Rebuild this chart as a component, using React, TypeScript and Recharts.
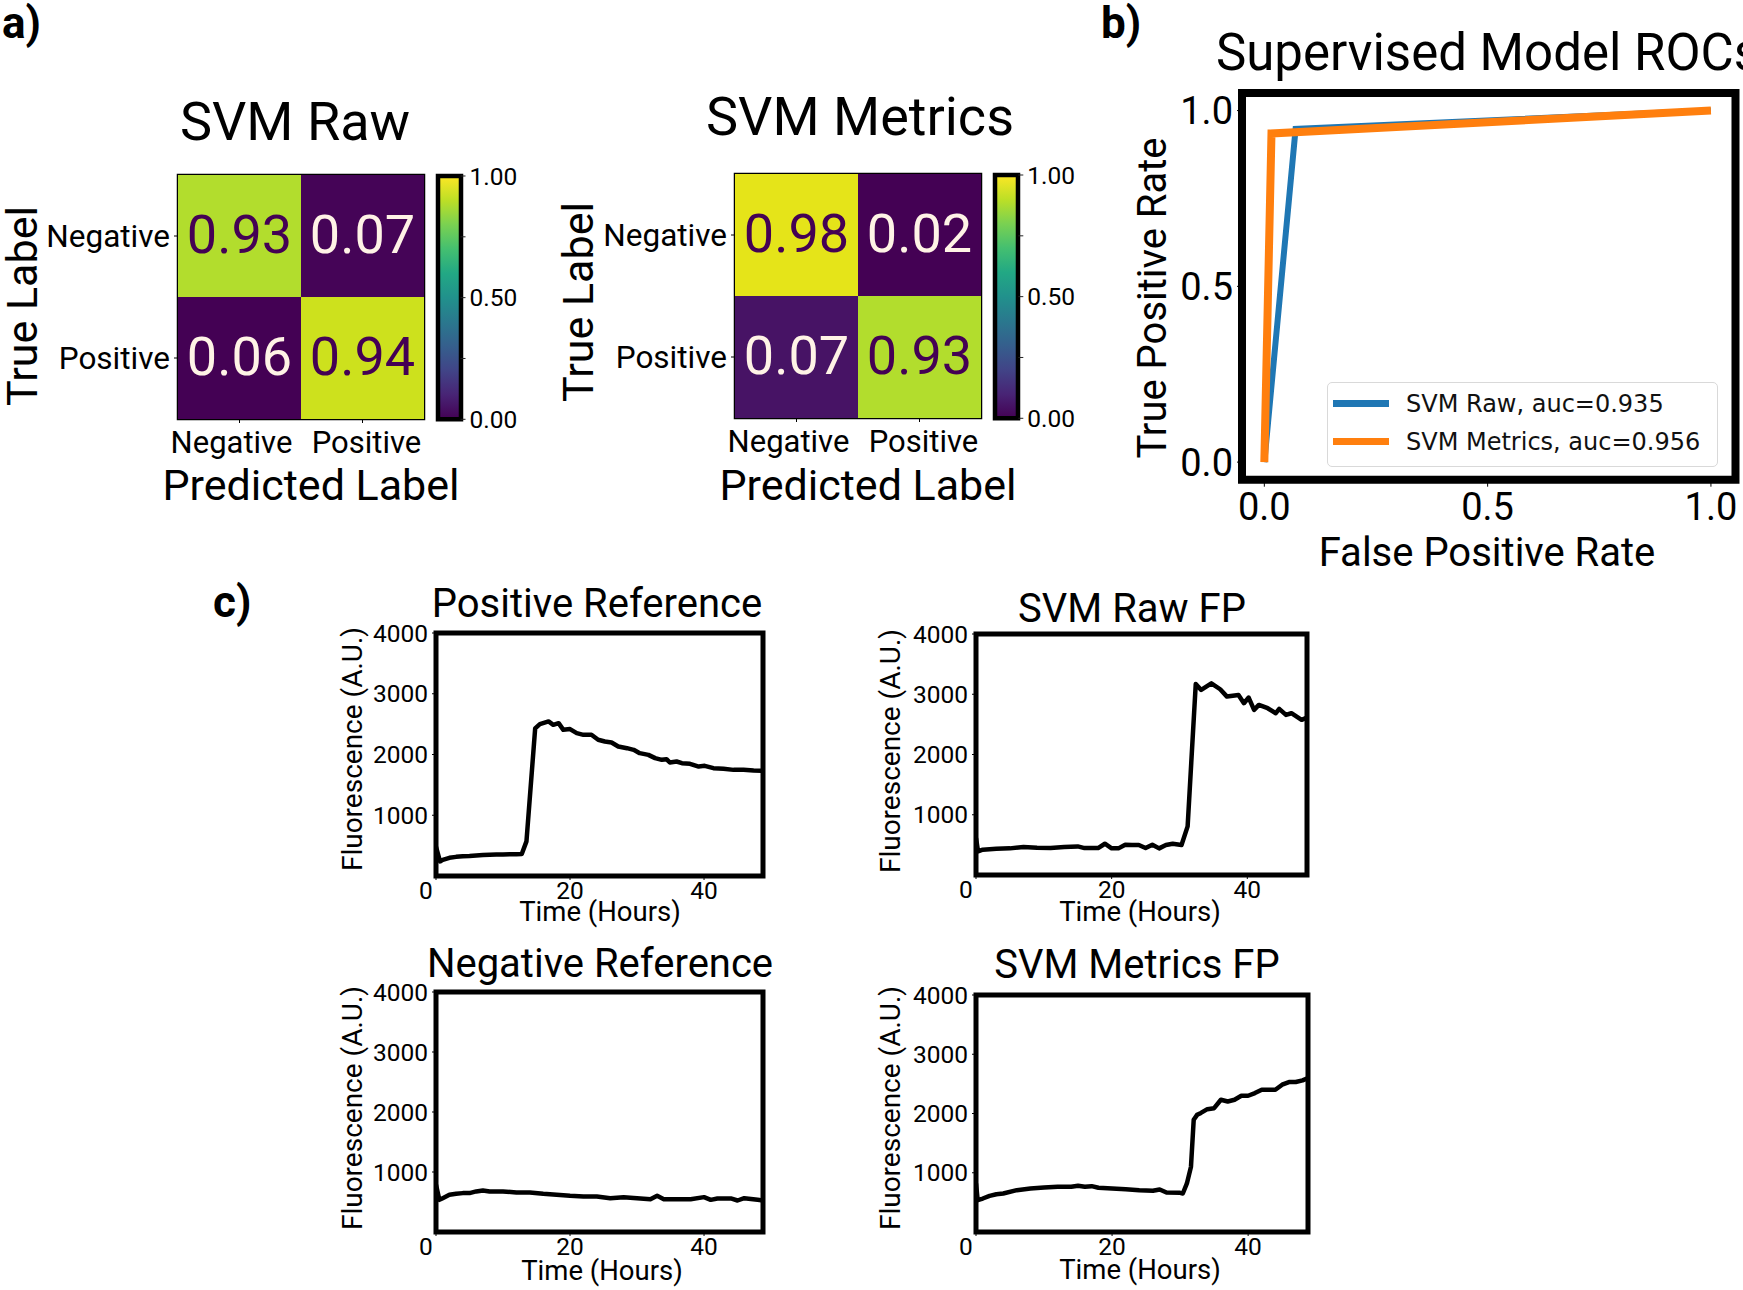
import React from 'react';
import { LineChart, Line, BarChart, Bar, Cell, XAxis, YAxis, ReferenceArea, Legend, LabelList } from 'recharts';

const FONT = 'Roboto, "Noto Sans", sans-serif';

// confusion matrices (rows = true label, cols = predicted)
const classLabels = ['Negative', 'Positive'];
const rawMatrix = [[0.93, 0.07], [0.06, 0.94]];
const metricsMatrix = [[0.98, 0.02], [0.07, 0.93]];
const rawCellColors = [['#b2dd2d', '#450457'], ['#440154', '#cde11d']];
const metricsCellColors = [['#e5e419', '#440154'], ['#471365', '#b2dd2d']];
const colorbarRange = [0, 1];
const colorbarTicks = [0, 0.25, 0.5, 0.75, 1];
const colorbarLabels = ['0.00', '', '0.50', '', '1.00'];
const viridis = ['#440154', '#482475', '#414487', '#355f8d', '#2a788e', '#21918c', '#22a884', '#44bf70', '#7ad151', '#bddf26', '#fde725'];

// ROC curves
const rocNames = ['SVM Raw, auc=0.935', 'SVM Metrics, auc=0.956'];
const rawFpr = [0, 0.07, 1];
const rawTpr = [0, 0.948, 1];
const metFpr = [0, 0.016, 1];
const metTpr = [0, 0.935, 1];
const rocTicks = [0, 0.5, 1];
const rocXDomain = [-0.05, 1.055];
const rocYDomain = [-0.05, 1.05];

// fluorescence traces (hours, A.U.)
const posRefT = [0, 0.6, 1, 2, 3, 4, 5, 6, 7, 8, 9, 10, 11, 12, 12.8, 13.5, 14.8, 15.5, 16.8, 17.5, 18.3, 19, 20, 21, 22, 23.2, 24.2, 25.2, 26.2, 27.2, 28.5, 29.5, 30.4, 31.7, 32.7, 33.7, 34.4, 34.9, 35.9, 36.7, 37.9, 39.2, 40.1, 41.4, 42.9, 44.4, 45.9, 47.4, 48.6];
const posRefF = [480, 240, 265, 300, 315, 325, 330, 338, 345, 350, 352, 355, 357, 358, 362, 570, 2430, 2500, 2544, 2489, 2516, 2406, 2418, 2352, 2324, 2324, 2242, 2214, 2198, 2132, 2104, 2077, 2022, 1994, 1940, 1912, 1923, 1868, 1885, 1857, 1846, 1802, 1813, 1775, 1764, 1747, 1747, 1736, 1731];

const rawFpT = [0, 0.3, 1, 3, 5, 7, 9, 11, 13, 15, 16, 18, 19, 20, 21, 22, 23, 24, 25, 26, 27, 28, 29, 30.3, 31.2, 32.4, 33.2, 34.7, 36, 37, 38.7, 39.5, 40.2, 41, 41.7, 43, 44.2, 44.7, 45.7, 46.5, 48, 48.8];
const rawFpF = [613, 392, 420, 436, 442, 464, 453, 447, 464, 475, 447, 447, 519, 442, 442, 503, 497, 497, 447, 503, 442, 497, 519, 497, 807, 3171, 3072, 3182, 3083, 2961, 2989, 2851, 2945, 2740, 2823, 2768, 2685, 2757, 2657, 2685, 2575, 2613];

const negRefT = [0, 0.5, 1, 2, 3, 4, 5, 6, 7, 8, 10, 12, 14, 16, 18, 20, 22, 24, 26, 28, 30, 32, 33, 34, 36, 38, 40, 41, 42, 44, 45, 46, 48, 48.8];
const negRefF = [788, 536, 564, 620, 637, 648, 648, 676, 693, 676, 676, 659, 659, 637, 620, 603, 592, 592, 564, 581, 564, 547, 603, 547, 547, 547, 581, 536, 559, 559, 525, 564, 536, 525];

const metFpT = [0, 0.25, 1, 2, 3, 4, 6, 8, 10, 12, 14, 15, 16, 17, 18, 20, 22, 24, 26, 27, 28, 30, 30.4, 31, 31.6, 32, 32.5, 33, 34, 35, 36, 37, 38, 39, 40, 41, 42, 43, 44, 45, 46, 47, 48, 48.8];
const metFpF = [819, 537, 565, 610, 638, 650, 706, 734, 751, 763, 763, 780, 763, 774, 746, 734, 723, 706, 695, 718, 667, 661, 650, 819, 1102, 1893, 1977, 2006, 2073, 2090, 2232, 2203, 2232, 2299, 2299, 2345, 2401, 2401, 2401, 2486, 2531, 2531, 2559, 2599];

const timeTicks = [0, 20, 40];
const timeDomain = [0, 48.8];
const fluorTicks = [1000, 2000, 3000, 4000];
const fluorDomain = [0, 4000];

type Rect = { l: number; t: number; r: number; b: number };

// place a chart so that its plot area lands on `plot`
const frame = (plot: Rect, pad: Rect) => ({
    style: { position: 'absolute' as const, left: plot.l - pad.l, top: plot.t - pad.t },
    width: plot.r - plot.l + pad.l + pad.r,
    height: plot.b - plot.t + pad.t + pad.b,
});

const tickStyle = (fontSize: number, fontFamily = FONT) => ({ fill: '#000', fontSize, fontFamily });

const cellText = (props: any) => {
    const vb = props.viewBox || props;
    const x = props.x ?? vb.x;
    const y = props.y ?? vb.y;
    const w = props.width ?? vb.width;
    const h = props.height ?? vb.height;
    const dark = parseFloat(props.value) > 0.5;
    return (
        <text x={x + w / 2} y={y + h / 2 - 2} dy="0.36em" textAnchor="middle" fontSize={54} fontFamily={FONT} fill={dark ? '#440154' : '#fff3e6'}>
            {props.value}
        </text>
    );
};

// the two predicted-label names sit a bit apart from their ticks in the original
const PredTick = (props: any) => {
    const { x, y, payload } = props;
    const i = Math.floor(payload.value);
    return (
        <text x={x + (i === 0 ? -8 : 4)} y={y} dy="0.71em" textAnchor="middle" fontSize={31} fontFamily={FONT} fill="#000">
            {classLabels[i]}
        </text>
    );
};

const Heatmap = ({ matrix, colors, plot }: { matrix: number[][]; colors: string[][]; plot: Rect }) => {
    const rows = classLabels.map((name, i) => ({
        name,
        c0: 1,
        c1: 1,
        v0: matrix[i][0].toFixed(2),
        v1: matrix[i][1].toFixed(2),
    }));
    const yW = 150;
    const xH = 55;
    const pad = { l: 160, t: 10, r: 10, b: 65 };
    const f = frame(plot, pad);
    return (
        <div style={f.style}>
            <BarChart width={f.width} height={f.height} data={rows} layout="vertical" barCategoryGap={0} barGap={0}
                margin={{ top: pad.t, right: pad.r, bottom: pad.b - xH, left: pad.l - yW }}>
                <XAxis type="number" domain={[0, 2]} ticks={[0.5, 1.5]} interval={0} height={xH} axisLine={false}
                    tickSize={4} tickMargin={8} tick={PredTick} tickLine={{ stroke: '#000' }} />
                <YAxis type="category" dataKey="name" width={yW} interval={0} axisLine={false} tickSize={4} tickMargin={4}
                    tick={tickStyle(31.5)} tickLine={{ stroke: '#000' }} />
                {[0, 1].map((col) => (
                    <Bar key={col} dataKey={`c${col}`} stackId="cm" isAnimationActive={false}>
                        {rows.map((_, i) => <Cell key={i} fill={colors[i][col]} />)}
                        <LabelList dataKey={`v${col}`} content={cellText} />
                    </Bar>
                ))}
                <ReferenceArea x1={0} x2={2} ifOverflow="visible" fill="none" stroke="#000" strokeWidth={2.5} />
            </BarChart>
        </div>
    );
};

const Colorbar = ({ plot }: { plot: Rect }) => {
    const yW = 70;
    const pad = { l: 4, t: 20, r: 75, b: 20 };
    const f = frame(plot, pad);
    const data = [{ name: 'cb', v: colorbarRange[1] }];
    return (
        <div style={f.style}>
            <BarChart width={f.width} height={f.height} data={data} barCategoryGap={0}
                margin={{ top: pad.t, right: pad.r - yW, bottom: pad.b, left: pad.l }}>
                <XAxis dataKey="name" hide />
                <YAxis orientation="right" type="number" domain={colorbarRange} ticks={colorbarTicks} interval={0} width={yW}
                    axisLine={false} tickSize={5} tickMargin={4} tick={tickStyle(24.5)} tickLine={{ stroke: '#222' }}
                    tickFormatter={(v: number) => colorbarLabels[colorbarTicks.indexOf(v)]} />
                <Bar dataKey="v" fill="url(#viridisGrad)" stroke="#000" strokeWidth={4.5} isAnimationActive={false} />
            </BarChart>
        </div>
    );
};

const RocLegend = (props: any) => {
    const items = [...(props.payload || [])].sort((a: any, b: any) => rocNames.indexOf(a.value) - rocNames.indexOf(b.value));
    return (
        <div style={{
            width: 391, height: 85, boxSizing: 'border-box', border: '1.5px solid #d9d9d9', borderRadius: 5,
            background: '#fff', paddingTop: 2, fontFamily: '"DejaVu Sans", sans-serif', fontSize: 24, color: '#111',
        }}>
            {items.map((p: any) => (
                <div key={p.value} style={{ display: 'flex', alignItems: 'center', height: 38 }}>
                    <span style={{ display: 'inline-block', width: 56, height: 7, background: p.color, marginLeft: 5, marginRight: 17 }} />
                    {p.value}
                </div>
            ))}
        </div>
    );
};

const RocChart = () => {
    const plot = { l: 1241.5, t: 93.3, r: 1735, b: 480 };
    const yW = 95;
    const xH = 55;
    const pad = { l: 100, t: 20, r: 8, b: 60 };
    const f = frame(plot, pad);
    const rawData = rawFpr.map((fpr, i) => ({ fpr, tpr: rawTpr[i] }));
    const metData = metFpr.map((fpr, i) => ({ fpr, tpr: metTpr[i] }));
    return (
        <div style={f.style}>
            <LineChart width={f.width} height={f.height}
                margin={{ top: pad.t, right: pad.r, bottom: pad.b - xH, left: pad.l - yW }}>
                <XAxis type="number" dataKey="fpr" domain={rocXDomain} ticks={rocTicks} interval={0} height={xH}
                    allowDataOverflow axisLine={false} tickSize={7} tickMargin={6} tick={tickStyle(38)}
                    tickLine={{ stroke: '#000' }} tickFormatter={(v: number) => v.toFixed(1)} />
                <YAxis type="number" domain={rocYDomain} ticks={rocTicks} interval={0} width={yW}
                    allowDataOverflow axisLine={false} tickSize={5} tickMargin={4} tick={tickStyle(38)}
                    tickLine={{ stroke: '#000' }} tickFormatter={(v: number) => v.toFixed(1)} />
                <Line data={rawData} dataKey="tpr" name={rocNames[0]} stroke="#1f77b4" strokeWidth={6}
                    dot={false} isAnimationActive={false} />
                <Line data={metData} dataKey="tpr" name={rocNames[1]} stroke="#ff7f0e" strokeWidth={8}
                    dot={false} isAnimationActive={false} />
                <ReferenceArea x1={rocXDomain[0]} x2={rocXDomain[1]} y1={rocYDomain[0]} y2={rocYDomain[1]}
                    ifOverflow="visible" fill="none" stroke="#000" strokeWidth={8} />
                <Legend layout="horizontal" verticalAlign="middle" align="center" content={RocLegend}
                    wrapperStyle={{ position: 'absolute', left: 1327 - f.style.left, top: 382 - f.style.top, width: 391 }} />
            </LineChart>
        </div>
    );
};

// matplotlib puts the "0" label a little left of its tick
const TimeTick = (props: any) => {
    const { x, y, payload } = props;
    return (
        <text x={payload.value === 0 ? x - 10 : x} y={y} dy="0.71em" textAnchor="middle" fontSize={24.5} fontFamily={FONT} fill="#000">
            {payload.value}
        </text>
    );
};

const TracePanel = ({ t, fl, plot }: { t: number[]; fl: number[]; plot: Rect }) => {
    const data = t.map((time, i) => ({ time, fl: fl[i] }));
    const yW = 85;
    const xH = 35;
    const pad = { l: 90, t: 20, r: 8, b: 40 };
    const f = frame(plot, pad);
    return (
        <div style={f.style}>
            <LineChart width={f.width} height={f.height} data={data}
                margin={{ top: pad.t, right: pad.r, bottom: pad.b - xH, left: pad.l - yW }}>
                <XAxis type="number" dataKey="time" domain={timeDomain} ticks={timeTicks} interval={0} height={xH}
                    allowDataOverflow axisLine={false} tickSize={4} tickMargin={2} tick={TimeTick}
                    tickLine={{ stroke: '#000' }} />
                <YAxis type="number" domain={fluorDomain} ticks={fluorTicks} interval={0} width={yW}
                    allowDataOverflow axisLine={false} tickSize={4} tickMargin={4} tick={tickStyle(24.5)}
                    tickLine={{ stroke: '#000' }} />
                <Line dataKey="fl" stroke="#000" strokeWidth={4.5} dot={false} strokeLinejoin="round" isAnimationActive={false} />
                <ReferenceArea x1={timeDomain[0]} x2={timeDomain[1]} y1={fluorDomain[0]} y2={fluorDomain[1]}
                    ifOverflow="visible" fill="none" stroke="#000" strokeWidth={5} />
            </LineChart>
        </div>
    );
};

type Txt = { s: string; x: number; y: number; size: number; bold?: boolean; rot?: boolean; anchor?: 'start' | 'middle' };

const texts: Txt[] = [
    { s: 'a)', x: 2, y: 38, size: 44, bold: true, anchor: 'start' },
    { s: 'b)', x: 1101, y: 38, size: 44, bold: true, anchor: 'start' },
    { s: 'c)', x: 213, y: 617, size: 44, bold: true, anchor: 'start' },
    { s: 'SVM Raw', x: 295, y: 140, size: 54 },
    { s: 'SVM Metrics', x: 860, y: 135, size: 54 },
    { s: 'Predicted Label', x: 311, y: 500, size: 43 },
    { s: 'Predicted Label', x: 868, y: 500, size: 43 },
    { s: 'True Label', x: 37, y: 306, size: 43, rot: true },
    { s: 'True Label', x: 593, y: 302, size: 43, rot: true },
    { s: 'Supervised Model ROCs', x: 1488, y: 70, size: 51 },
    { s: 'True Positive Rate', x: 1166, y: 298, size: 40, rot: true },
    { s: 'False Positive Rate', x: 1487, y: 566, size: 40 },
    { s: 'Positive Reference', x: 597, y: 617, size: 40 },
    { s: 'SVM Raw FP', x: 1132, y: 622, size: 40 },
    { s: 'Negative Reference', x: 600, y: 977, size: 40 },
    { s: 'SVM Metrics FP', x: 1137, y: 978, size: 40 },
    { s: 'Time (Hours)', x: 600, y: 921, size: 27.5 },
    { s: 'Time (Hours)', x: 1140, y: 921, size: 27.5 },
    { s: 'Time (Hours)', x: 602, y: 1280, size: 27.5 },
    { s: 'Time (Hours)', x: 1140, y: 1279, size: 27.5 },
    { s: 'Fluorescence (A.U.)', x: 362, y: 749, size: 28, rot: true },
    { s: 'Fluorescence (A.U.)', x: 900, y: 751, size: 28, rot: true },
    { s: 'Fluorescence (A.U.)', x: 362, y: 1108, size: 28, rot: true },
    { s: 'Fluorescence (A.U.)', x: 900, y: 1108, size: 28, rot: true },
];

export default function App() {
    return (
        <div style={{ position: 'absolute', left: 0, top: 0, width: 1743, height: 1290, overflow: 'hidden', background: '#fff', fontFamily: FONT }}>
            <svg width={0} height={0} style={{ position: 'absolute' }}>
                <defs>
                    <linearGradient id="viridisGrad" x1="0" y1="1" x2="0" y2="0">
                        {viridis.map((c, i) => <stop key={i} offset={i / (viridis.length - 1)} stopColor={c} />)}
                    </linearGradient>
                </defs>
            </svg>

            <Heatmap matrix={rawMatrix} colors={rawCellColors} plot={{ l: 177.5, t: 175, r: 423.5, b: 419 }} />
            <Colorbar plot={{ l: 437.5, t: 175.7, r: 460, b: 419 }} />
            <Heatmap matrix={metricsMatrix} colors={metricsCellColors} plot={{ l: 735, t: 174, r: 981, b: 418 }} />
            <Colorbar plot={{ l: 994.7, t: 174.7, r: 1018, b: 418 }} />

            <RocChart />

            <TracePanel t={posRefT} fl={posRefF} plot={{ l: 436, t: 633, r: 763, b: 876 }} />
            <TracePanel t={rawFpT} fl={rawFpF} plot={{ l: 976, t: 634, r: 1307, b: 875 }} />
            <TracePanel t={negRefT} fl={negRefF} plot={{ l: 436, t: 992, r: 763, b: 1232 }} />
            <TracePanel t={metFpT} fl={metFpF} plot={{ l: 976, t: 995, r: 1308, b: 1232 }} />

            <svg width={1743} height={1290} style={{ position: 'absolute', left: 0, top: 0, pointerEvents: 'none' }}>
                {texts.map((d, i) => (
                    <text key={i} x={d.x} y={d.y} fontSize={d.size} fontFamily={FONT} fontWeight={d.bold ? 700 : 400}
                        textAnchor={d.anchor || 'middle'} fill="#000"
                        transform={d.rot ? `rotate(-90 ${d.x} ${d.y})` : undefined}>
                        {d.s}
                    </text>
                ))}
            </svg>
        </div>
    );
}
